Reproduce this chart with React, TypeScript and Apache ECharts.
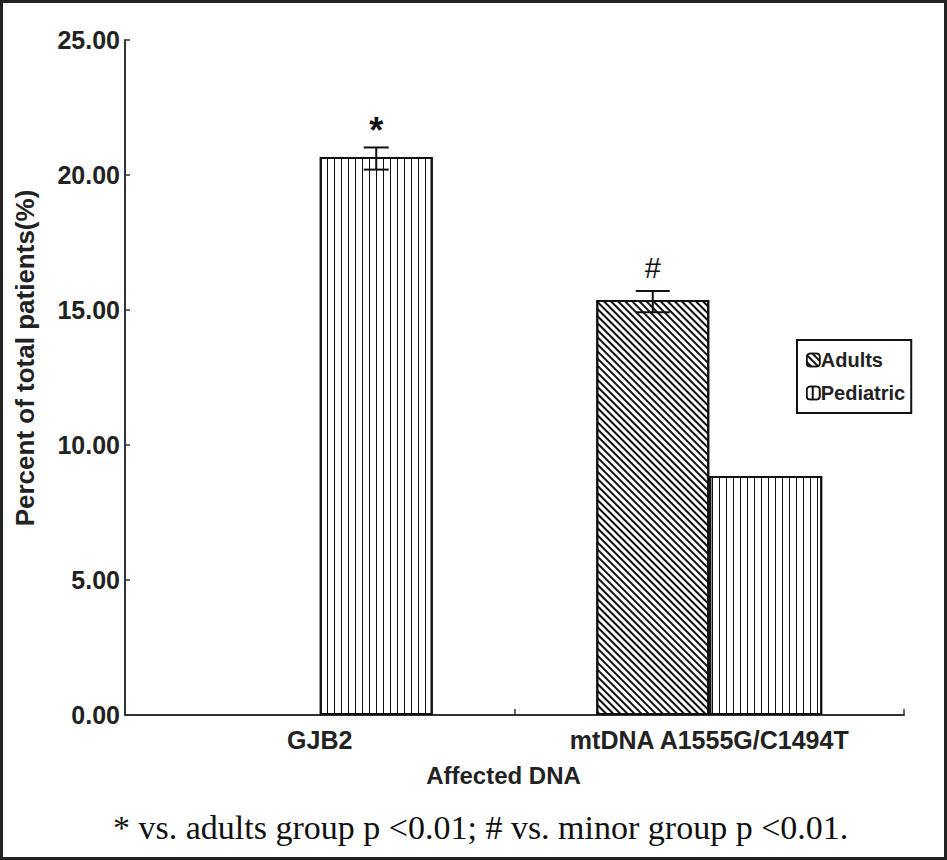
import React, { useEffect, useRef } from "react";
import * as echarts from "echarts";

const categories = ["GJB2", "mtDNA A1555G/C1494T"];
const adults: (number | null)[] = [null, 15.37];
const pediatric: (number | null)[] = [20.67, 8.85];
// error bars: [categoryIndex, side(-1 adults, +1 pediatric), low, high]
const errorBars = [
  [0, 1, 20.2, 21.02],
  [1, -1, 14.92, 15.7],
];
const errorMarks = ["*", "#"];
const yTicks = [0, 5, 10, 15, 20, 25];

const FONT = "'Liberation Sans', Arial, sans-serif";
const INK = "#222";
const BAR_FRAC = 0.29;

export default function App() {
  const ref = useRef<HTMLDivElement>(null);
  useEffect(() => {
    document.body.style.margin = "0";
    const chart = echarts.init(ref.current!, undefined, { renderer: "svg" });
    const vDecal = {
      symbol: "rect",
      symbolSize: 1,
      color: "#111",
      backgroundColor: "#fff",
      dashArrayX: [1, 0],
      dashArrayY: [2, 5],
      rotation: Math.PI / 2,
    };
    const dDecal = {
      symbol: "rect",
      symbolSize: 1,
      color: "#111",
      backgroundColor: "#fff",
      dashArrayX: [1, 0],
      dashArrayY: [1.6, 3],
      rotation: Math.PI / 4,
    };
    chart.setOption({
      animation: false,
      backgroundColor: "#fff",
      grid: { left: 125, right: 43, top: 40, bottom: 145 },
      legend: {
        orient: "vertical",
        left: 797,
        top: 340,
        padding: [10, 6, 10, 9],
        itemGap: 13,
        itemWidth: 13,
        itemHeight: 13,
        borderColor: "#111",
        borderWidth: 2,
        backgroundColor: "#fff",
        data: ["Adults", "Pediatric"],
        textStyle: { fontFamily: FONT, fontWeight: "bold", fontSize: 20, color: INK, padding: [0, 0, 0, -4] },
        itemStyle: { borderColor: "#111", borderWidth: 1.5 },
      },
      xAxis: {
        type: "category",
        data: categories,
        name: "Affected DNA",
        nameLocation: "middle",
        nameGap: 48,
        nameTextStyle: { fontFamily: FONT, fontWeight: "bold", fontSize: 24, color: INK, padding: [0, 22, 0, 0] },
        axisLine: { lineStyle: { color: "#333", width: 2 } },
        axisTick: { show: true, inside: true, length: 6, lineStyle: { color: "#333", width: 1.5 } },
        axisLabel: { fontFamily: FONT, fontWeight: "bold", fontSize: 25, color: INK, margin: 12 },
      },
      yAxis: {
        type: "value",
        min: 0,
        max: 25,
        interval: 5,
        axisLine: { show: true, lineStyle: { color: "#333", width: 2 } },
        axisTick: { show: true, inside: true, length: 5, lineStyle: { color: "#333", width: 1.5 } },
        splitLine: { show: false },
        axisLabel: {
          fontFamily: FONT,
          fontWeight: "bold",
          fontSize: 25,
          color: INK,
          margin: 5,
          formatter: (v: number) => (yTicks.includes(v) ? v.toFixed(2) : ""),
        },
      },
      series: [
        {
          name: "Adults",
          type: "bar",
          data: adults,
          barWidth: BAR_FRAC * 100 + "%",
          barGap: "0%",
          itemStyle: { color: "#fff", borderColor: "#111", borderWidth: 2, decal: dDecal },
        },
        {
          name: "Pediatric",
          type: "bar",
          data: pediatric,
          barWidth: BAR_FRAC * 100 + "%",
          barGap: "0%",
          itemStyle: { color: "#fff", borderColor: "#111", borderWidth: 2, decal: vDecal },
        },
        {
          type: "custom",
          data: errorBars,
          encode: { x: 0, y: [2, 3] },
          z: 10,
          renderItem: (params: any, api: any) => {
            const cx0 = api.coord([api.value(0), 0])[0];
            const band = api.size([1, 0])[0];
            const cx = cx0 + (api.value(1) * band * BAR_FRAC) / 2;
            const yl = api.coord([api.value(0), api.value(2)])[1];
            const yh = api.coord([api.value(0), api.value(3)])[1];
            const isStar = params.dataIndex === 0;
            const cap = isStar ? 12.5 : 17;
            const st = { stroke: "#111", lineWidth: 2 };
            return {
              type: "group",
              children: [
                { type: "line", shape: { x1: cx, y1: yl, x2: cx, y2: yh }, style: st },
                { type: "line", shape: { x1: cx - cap, y1: yl, x2: cx + cap, y2: yl }, style: st },
                { type: "line", shape: { x1: cx - cap, y1: yh, x2: cx + cap, y2: yh }, style: st },
                {
                  type: "text",
                  x: cx,
                  y: isStar ? yh - 17 : yh - 23,
                  style: {
                    text: errorMarks[params.dataIndex],
                    fontFamily: FONT,
                    fontWeight: isStar ? "bold" : "normal",
                    fontSize: isStar ? 36 : 29,
                    fill: "#111",
                    align: "center",
                    verticalAlign: "middle",
                  },
                },
              ],
            };
          },
        },
      ],
      graphic: [
        {
          type: "rect",
          shape: { x: 1.5, y: 1.5, width: 944, height: 857 },
          style: { fill: "none", stroke: "#222", lineWidth: 3 },
          silent: true,
        },
        {
          type: "text",
          x: 25,
          y: 358,
          rotation: Math.PI / 2,
          style: {
            text: "Percent of total patients(%)",
            fontFamily: FONT,
            fontWeight: "bold",
            fontSize: 26,
            fill: INK,
            align: "center",
            verticalAlign: "middle",
          },
        },
        {
          type: "text",
          left: 113,
          top: 810,
          style: {
            text: "* vs. adults group p <0.01; # vs. minor group p <0.01.",
            fontFamily: "'Liberation Serif', 'Times New Roman', serif",
            fontSize: 34,
            fill: "#111",
          },
        },
      ],
    });
    return () => chart.dispose();
  }, []);
  return <div ref={ref} style={{ width: 947, height: 860 }} />;
}
